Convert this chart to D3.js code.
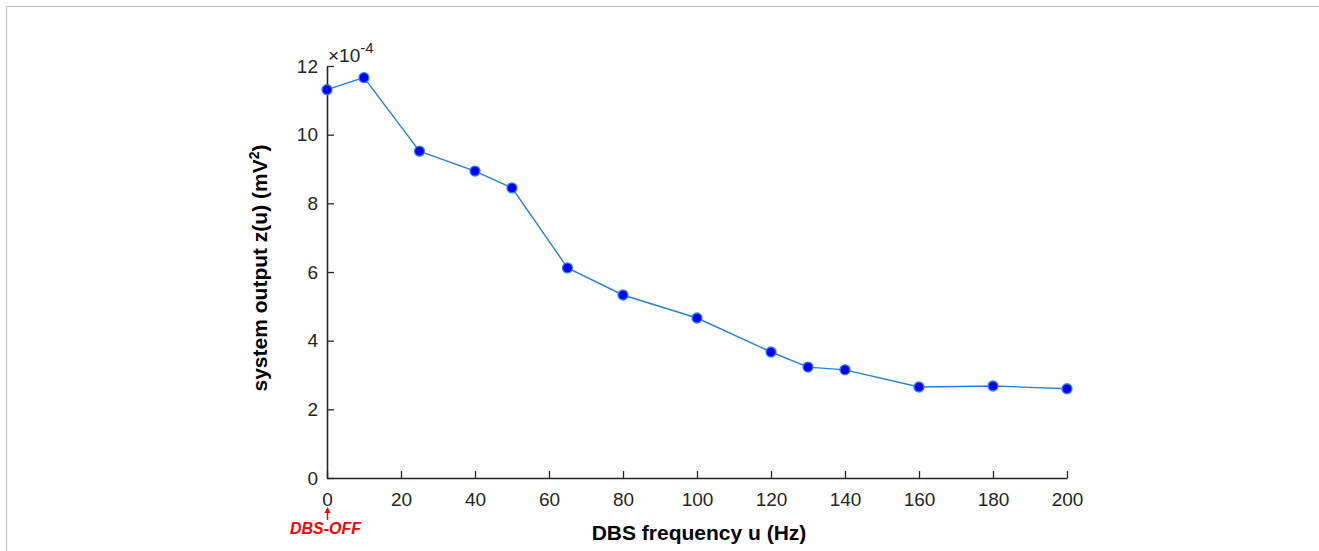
<!DOCTYPE html>
<html><head><meta charset="utf-8">
<script src="https://cdn.jsdelivr.net/npm/d3@7"></script>
<style>body{margin:0;background:#fff}svg{display:block}</style>
</head><body>
<script>
const freqs = [0, 10, 25, 40, 50, 65, 80, 100, 120, 130, 140, 160, 180, 200];
const outputs = [11.31, 11.66, 9.52, 8.94, 8.45, 6.12, 5.33, 4.66, 3.67, 3.23, 3.15, 2.65, 2.68, 2.60];
const xTicks = [0, 20, 40, 60, 80, 100, 120, 140, 160, 180, 200];
const yTicks = [0, 2, 4, 6, 8, 10, 12];

const W = 1319, H = 551;
const svg = d3.select("body").append("svg").attr("width", W).attr("height", H);

// frame lines
svg.append("line").attr("x1",6.5).attr("x2",W).attr("y1",6.5).attr("y2",6.5).attr("stroke","#bdbdbd").attr("stroke-width",1);
svg.append("line").attr("x1",6.5).attr("x2",6.5).attr("y1",6.5).attr("y2",H).attr("stroke","#bdbdbd").attr("stroke-width",1);

const x = d3.scaleLinear().domain([0,200]).range([327, 1067]);
const y = d3.scaleLinear().domain([0,12]).range([478, 66]);
const font = "'Liberation Sans', Arial, sans-serif";

const xAxis = svg.append("g").attr("transform",`translate(0,${y(0)})`)
  .call(d3.axisBottom(x).tickValues(xTicks).tickSizeInner(-7).tickSizeOuter(0).tickPadding(15));
const yAxis = svg.append("g").attr("transform",`translate(${x(0)},0)`)
  .call(d3.axisLeft(y).tickValues(yTicks).tickSizeInner(-7).tickSizeOuter(0).tickPadding(9));
[xAxis, yAxis].forEach(g => {
  g.select(".domain").attr("stroke","#262626").attr("stroke-width",1.6);
  g.selectAll(".tick line").attr("stroke","#262626").attr("stroke-width",1.3);
  g.selectAll(".tick text").attr("fill","#262626").style("font-family",font).style("font-size","19px");
});

// exponent label
const ex = svg.append("text").attr("x",328).attr("y",62).style("font-family",font).style("font-size","19px").attr("fill","#262626");
ex.append("tspan").text("×10");
ex.append("tspan").attr("dy",-9).style("font-size","15px").text("-4");

// line
const line = d3.line().x((d,i)=>x(freqs[i])).y(d=>y(d));
svg.append("path").datum(outputs).attr("d",line).attr("fill","none").attr("stroke","#2a7fd6").attr("stroke-width",1.4);
svg.selectAll("circle.pt").data(outputs).join("circle").attr("class","pt")
  .attr("cx",(d,i)=>x(freqs[i])).attr("cy",d=>y(d)).attr("r",5)
  .attr("fill","#0000f0").attr("stroke","#2f86dd").attr("stroke-width",1.3);

// axis labels
svg.append("text").attr("x",699).attr("y",540).attr("text-anchor","middle")
  .style("font-family",font).style("font-size","21px").style("font-weight","bold").attr("fill","#000")
  .text("DBS frequency u (Hz)");
const yl = svg.append("text").attr("transform",`translate(267,268) rotate(-90)`).attr("text-anchor","middle")
  .style("font-family",font).style("font-size","21px").style("font-weight","bold").attr("fill","#000");
yl.append("tspan").text("system output z(u) (mV");
yl.append("tspan").attr("dy",-8).style("font-size","14px").text("2");
yl.append("tspan").attr("dy",8).text(")");

// DBS-OFF annotation
svg.append("line").attr("x1",x(0)+0.5).attr("x2",x(0)+0.5).attr("y1",520).attr("y2",512).attr("stroke","#ff0000").attr("stroke-width",1.5);
svg.append("path").attr("d",`M${x(0)-2.5},${513} L${x(0)+0.5},${507} L${x(0)+3.5},${513} Z`).attr("fill","#ff0000");
svg.append("text").attr("x",325.5).attr("y",534).attr("text-anchor","middle")
  .style("font-family",font).style("font-size","16px").style("font-weight","bold").style("font-style","italic")
  .attr("fill","#ff0000").text("DBS-OFF");
</script>
</body></html>
